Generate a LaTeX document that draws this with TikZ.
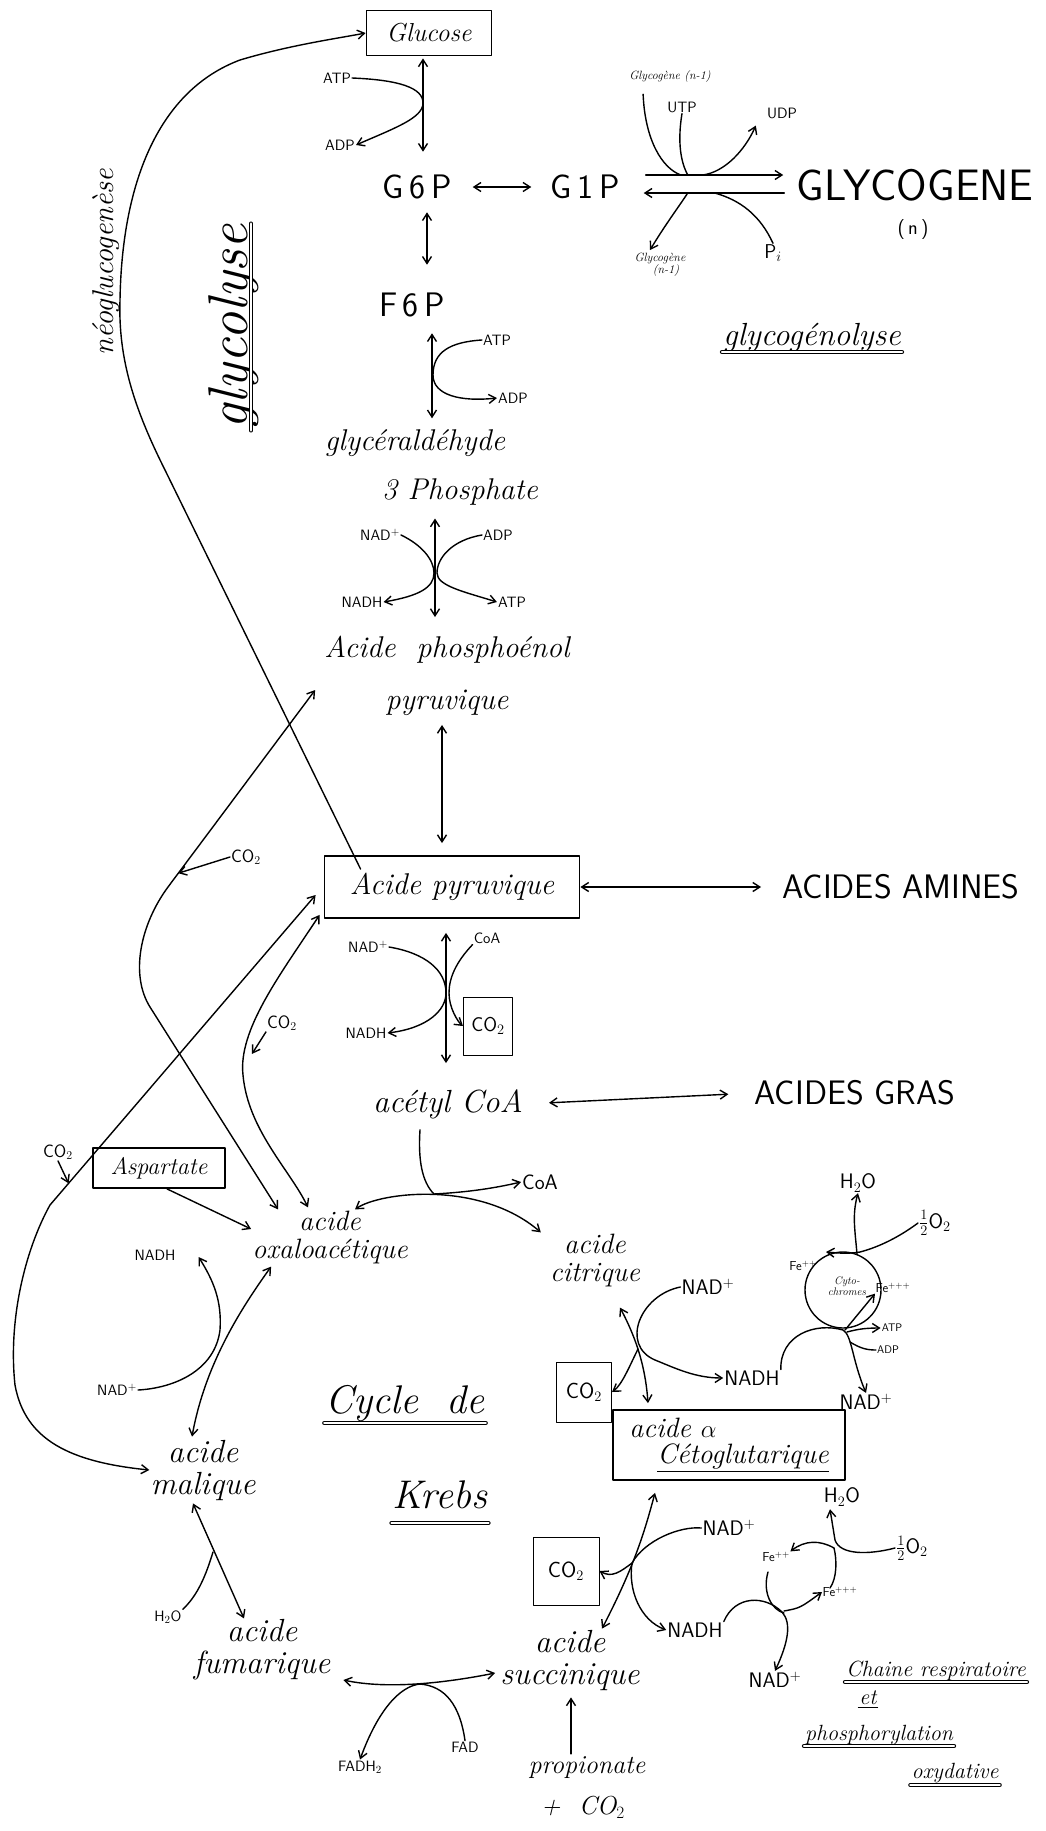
\documentclass[tikz,border=0pt]{standalone}
\usepackage{fontspec}
\usetikzlibrary{arrows.meta,calc}
\tikzset{
  % textes
  mol/.style    = {font=\fontsize{#1}{#1}\selectfont\itshape, align=center, inner sep=1pt},
  titre/.style  = {font=\fontsize{#1}{#1}\selectfont\itshape, inner sep=1pt},
  capit/.style  = {font=\fontsize{#1}{#1}\selectfont\sffamily, inner sep=1pt},
  cof/.style    = {font=\fontsize{15}{15}\selectfont\sffamily, inner sep=1pt},
  cofg/.style   = {font=\fontsize{21}{21}\selectfont\sffamily, inner sep=1pt},
  cofp/.style   = {font=\fontsize{11}{11}\selectfont\sffamily, inner sep=1pt},
  fer/.style    = {font=\fontsize{13}{13}\selectfont\sffamily, inner sep=0.5pt},
  petit/.style  = {font=\fontsize{12}{12}\selectfont\itshape, inner sep=1pt, align=center},
  % cadres
  boite/.style     = {draw, line width=1.8pt},
  boitefine/.style = {draw, line width=1pt},
  % traits
  trait/.style = {line width=1.4pt},
  soul/.style  = {line width=0.9pt, double, double distance=2.5pt},
}

\begin{document}
\begin{tikzpicture}[x=1pt, y=-1pt, >={Straight Barb[length=7pt,width=9pt]}, line cap=round, line join=round]
  \path[use as bounding box, fill=white] (0,0) rectangle (1045,1831);

  % glycolyse
  \node[boite, mol=26, minimum width=125, minimum height=45] (glucose) at (429,33) {Glucose};
  \node[cof] (atpa) at (337,78) {ATP};
  \node[cof] (adpa) at (340,145) {ADP};
  \node[capit=34] (g6p) at (417,187) {G\,6\,P};
  \node[capit=34] (g1p) at (585,187) {G\,1\,P};
  \node[capit=34] (f6p) at (412,305) {F\,6\,P};
  \node[cof] (atpb) at (497,340) {ATP};
  \node[cof] (adpb) at (513,398) {ADP};
  \node[mol=30] (gald) at (415,443) {glycéraldéhyde};
  \node[mol=30] (gald3) at (460,492) {3 Phosphate};
  \node[cof] (nada) at (380,535) {NAD$^+$};
  \node[cof] (adpc) at (498,535) {ADP};
  \node[cof] (nadha) at (362,602) {NADH};
  \node[cof] (atpc) at (512,602) {ATP};
  \node[mol=30] (pep) at (447,676) {Acide\ \ phosphoénol\\[22pt]pyruvique};
  \node[boite, mol=30, minimum width=255, minimum height=62] (pyr) at (452,887) {Acide pyruvique};
  \node[capit=34] (amines) at (901,887) {ACIDES AMINES};
  \node[cof] (nadb) at (368,947) {NAD$^+$};
  \node[cof] (coaa) at (487,938) {CoA};
  \node[cof] (nadhb) at (366,1033) {NADH};
  \node[boitefine, capit=20, minimum width=49, minimum height=58] (co2a) at (488,1026) {CO$_2$};
  \node[mol=32] (acetyl) at (448,1104) {acétyl CoA};
  \node[capit=34] (gras) at (855,1093) {ACIDES GRAS};

  % glycogene
  \node[capit=44] (glycog) at (915,185) {GLYCOGENE};
  \node[capit=20] (nglyc) at (913,230) {(\,n\,)};
  \node[petit] (gna) at (670,77) {Glycogène (n-1)};
  \node[cof] (utp) at (682,107) {UTP};
  \node[cof] (udp) at (782,113) {UDP};
  \node[petit] (gnb) at (660,265) {Glycogène\\ \quad(n-1)};
  \node[capit=20] (pi) at (773,253) {P$_i$};

  % cycle de Krebs
  \node[boite, mol=24, minimum width=132, minimum height=40] (asp) at (159,1168) {Aspartate};
  \node[mol=28] (oxalo) at (330,1237) {acide\\oxaloacétique};
  \node[cofg] (coab) at (540,1182) {CoA};
  \node[mol=28] (citr) at (595,1260) {acide\\citrique};
  \node[cofg] (nadc) at (708,1287) {NAD$^+$};
  \node[cofg] (nadhc) at (752,1378) {NADH};
  \node[boitefine, capit=22, minimum width=55, minimum height=60] (co2b) at (584,1392) {CO$_2$};
  \node[boite, mol=28, minimum width=232, minimum height=70, align=left] (ceto) at (729,1445) {acide $\alpha$\\[-2pt]\quad\underline{Cétoglutarique}};
  \node[boitefine, capit=22, minimum width=66, minimum height=68] (co2c) at (566,1571) {CO$_2$};
  \node[cofg] (nade) at (729,1528) {NAD$^+$};
  \node[cofg] (nadhd) at (695,1630) {NADH};
  \node[mol=32] (succ) at (570,1660) {acide\\succinique};
  \node[mol=26] (prop) at (587,1768) {propionate};
  \node[mol=26] (plusco2) at (583,1807) {+\ \ CO$_2$};
  \node[mol=32] (mal) at (203,1470) {acide\\malique};
  \node[cof] (nadg) at (117,1390) {NAD$^+$};
  \node[cof] (nadhg) at (155,1255) {NADH};
  \node[mol=32] (fum) at (262,1650) {acide\\fumarique};
  \node[cof] (h2oc) at (168,1617) {H$_2$O};
  \node[cof] (fad) at (465,1747) {FAD};
  \node[cof] (fadh) at (360,1767) {FADH$_2$};
  \node[capit=18] (co2d) at (58,1152) {CO$_2$};
  \node[capit=18] (co2e) at (246,857) {CO$_2$};
  \node[capit=18] (co2f) at (282,1023) {CO$_2$};

  % chaine respiratoire
  \coordinate (cyto) at (843,1290);
  \coordinate (cytob) at (800,1578);
  \node[fer] (fea) at (803,1266) {Fe$^{++}$};
  \node[petit, font=\fontsize{11}{11}\selectfont\itshape] (cytot) at (847,1286) {Cyto-\\chromes};
  \node[fer] (feb) at (893,1288) {Fe$^{+++}$};
  \node[cofg] (h2oa) at (858,1183) {H$_2$O};
  \node[cofg] (o2a) at (935,1223) {$\frac12$O$_2$};
  \node[cofp] (atpd) at (892,1328) {ATP};
  \node[cofp] (adpd) at (888,1350) {ADP};
  \node[cofg] (nadd) at (866,1402) {NAD$^+$};
  \node[cofg] (h2ob) at (842,1497) {H$_2$O};
  \node[cofg] (o2b) at (912,1548) {$\frac12$O$_2$};
  \node[fer] (fec) at (776,1557) {Fe$^{++}$};
  \node[fer] (fed) at (840,1592) {Fe$^{+++}$};
  \node[cofg] (nadf) at (775,1680) {NAD$^+$};

  % titres
  \node[titre=56, rotate=90, anchor=base] (glycolyse) at (247,327) {glycolyse};
  \node[titre=30, rotate=90, anchor=base] (neo) at (113,262) {néoglucogenèse};
  \node[titre=32, anchor=base] (glycogeno) at (812,345) {glycogénolyse};
  \node[titre=40, anchor=base] (cycle) at (405,1413) {Cycle\ \ de};
  \node[titre=40, anchor=base] (krebs) at (440,1508) {Krebs};
  \node[titre=22, anchor=base] (chaine) at (936,1676) {Chaine respiratoire};
  \node[titre=22, anchor=base] (et) at (868,1704) {et};
  \node[titre=22, anchor=base] (phospho) at (879,1740) {phosphorylation};
  \node[titre=22, anchor=base] (oxyd) at (955,1778) {oxydative};
  \draw[soul] ([xshift=4pt]glycolyse.base west) -- ([xshift=4pt]glycolyse.base east);
  \draw[soul] ([yshift=-7pt]glycogeno.base west) -- ([yshift=-7pt]glycogeno.base east);
  \draw[soul] ([yshift=-10pt]cycle.base west) -- ([yshift=-10pt]cycle.base east);
  \draw[soul] ([yshift=-15pt]krebs.base west) -- ([yshift=-15pt]krebs.base east);
  \draw[soul] ([yshift=-6pt]chaine.base west) -- ([yshift=-6pt]chaine.base east);
  \draw[line width=1pt] ([yshift=-3pt]et.base west) -- ([yshift=-3pt]et.base east);
  \draw[soul] ([yshift=-6pt]phospho.base west) -- ([yshift=-6pt]phospho.base east);
  \draw[soul] ([yshift=-7pt]oxyd.base west) -- ([yshift=-7pt]oxyd.base east);

  % fleches de la glycolyse
  \draw[<->, trait] ($(glucose.south)+(-6,2)$) -- ($(g6p.north)+(6,-22)$);
  \draw[->, trait] (atpa.east) .. controls (400,80) and (423,88) .. (423,103) .. controls (423,118) and (395,128) .. (adpa.east);
  \draw[<->, trait, shorten <=20pt, shorten >=18pt] (g6p.east) -- (g1p.west);
  \draw[<->, trait] ($(g6p.south)+(10,12)$) -- ($(f6p.north)+(15,-27)$);
  \draw[<->, trait] ($(f6p.south)+(20,15)$) -- ($(gald.north)+(17,-10)$);
  \draw[->, trait] (atpb.west) .. controls (450,342) and (433,352) .. (433,375) .. controls (433,395) and (460,402) .. (adpb.west);
  \draw[<->, trait] ($(gald3.south)+(-25,12)$) -- ($(pep.north)+(-12,-18)$);
  \draw[->, trait] (nada.east) .. controls (422,545) and (434,560) .. (434,573) .. controls (434,588) and (418,596) .. (nadha.east);
  \draw[->, trait] (adpc.west) .. controls (452,540) and (437,558) .. (437,573) .. controls (437,586) and (465,592) .. (atpc.west);
  \draw[<->, trait] ($(pep.south)+(-5,8)$) -- ($(pyr.north)+(-10,-12)$);
  \draw[<->, trait, shorten >=20pt] (pyr.east) -- (amines.west);
  \draw[<->, trait] ($(pyr.south)+(-6,14)$) -- ($(acetyl.north)+(-2,-25)$);
  \draw[->, trait] (nadb.east) .. controls (425,953) and (446,970) .. (446,993) .. controls (446,1010) and (428,1028) .. (nadhb.east);
  \draw[->, trait] (coaa.south west) .. controls (456,962) and (449,978) .. (449,993) .. controls (449,1008) and (458,1022) .. (co2a.west);
  \draw[<->, trait, shorten <=25pt, shorten >=25pt] (acetyl.east) -- (gras.west);

  % neoglucogenese
  \draw[->, trait] ($(pyr.north west)+(37,14)$) -- (165,470) .. controls (135,410) and (118,360) .. (120,300)
    .. controls (122,180) and (160,90) .. (240,60) .. controls (290,45) and (340,38) .. (glucose.west);

  % glycogene
  \coordinate (ga) at ($(g1p.east)+(60,-12)$);
  \coordinate (gb) at ($(g1p.east)+(67,-12)$);
  \coordinate (gc) at ($(g1p.east)+(82,-12)$);
  \coordinate (gd) at ($(g1p.east)+(67,6)$);
  \coordinate (ge) at ($(g1p.east)+(94,6)$);
  \draw[->, trait] ($(g1p.east)+(25,-12)$) -- ($(glycog.west)+(-12,-10)$);
  \draw[->, trait] ($(glycog.west)+(-11,8)$) -- ($(g1p.east)+(23,6)$);
  \draw[trait] ($(gna.south west)+(15,10)$) .. controls (645,140) and (662,168) .. (ga);
  \draw[trait] (utp.south) .. controls (676,150) and (684,168) .. (gb);
  \draw[->, trait] (gc) .. controls (725,172) and (745,150) .. ($(udp.south west)+(-10,6)$);
  \draw[->, trait] (gd) .. controls (680,205) and (665,225) .. ($(gnb.north)+(-10,-2)$);
  \draw[trait] (ge) .. controls (740,200) and (760,215) .. (pi.north);

  % voies vers le cycle
  \coordinate (kp) at ($(pyr.west)+(-8,8)$);
  \coordinate (kb) at (50,1205);
  \draw[<->, trait] (kp) -- (kb) .. controls (25,1250) and (8,1320) .. (15,1385) .. controls (25,1440) and (70,1462) .. (mal.west);
  \draw[->, trait] (co2d.south) -- ($(kp)!0.93!(kb)$);
  \coordinate (ka) at ($(pep.west)+(-8,14)$);
  \coordinate (kh) at (168,887);
  \coordinate (ki) at (150,1007);
  \draw[<->, trait] (ka) -- (kh) .. controls (140,925) and (130,975) .. (ki) -- ($(oxalo.north)+(-52,0)$);
  \draw[->, trait] (co2e.west) -- ($(ka)!0.93!(kh)$);
  \draw[<->, trait] ($(pyr.south west)+(-4,-4)$) .. controls (280,975) and (238,1030) .. (243,1075) .. controls (248,1130) and (290,1170) .. ($(oxalo.north)+(-22,-2)$);
  \draw[->, trait] (co2f.south west) -- ++(-14,22);
  \draw[->, trait] ($(asp.south)+(8,0)$) -- ($(oxalo.west)+(0,-8)$);

  % cycle de Krebs
  \coordinate (kc) at (434,1194);
  \draw[trait] ($(acetyl.south)+(-28,10)$) .. controls (418,1160) and (422,1182) .. (kc);
  \draw[<->, trait] ($(oxalo.north)+(25,0)$) .. controls (380,1192) and (480,1180) .. ($(citr.north west)+(-8,0)$);
  \draw[->, trait] (kc) .. controls (470,1192) and (495,1188) .. (coab.west);
  \coordinate (kd) at (638,1349);
  \draw[<->, trait] ($(citr.south)+(25,20)$) .. controls (640,1345) and (646,1375) .. ($(ceto.north)+(-81,-6)$);
  \draw[->, trait] (kd) .. controls (630,1365) and (622,1385) .. (co2b.east);
  \draw[->, trait] (nadc.west) .. controls (640,1295) and (620,1345) .. (655,1360) .. controls (675,1368) and (695,1378) .. (nadhc.west);
  \coordinate (kf) at (632,1563);
  \draw[<->, trait] ($(ceto.south)+(-74,12)$) .. controls (645,1530) and (635,1565) .. ($(succ.north)+(32,0)$);
  \draw[->, trait] (kf) .. controls (620,1572) and (612,1578) .. (co2c.east);
  \draw[->, trait] (nade.west) .. controls (680,1526) and (645,1540) .. (kf) .. controls (628,1590) and (640,1620) .. (nadhd.west);
  \draw[->, trait] ($(prop.north)+(-16,-2)$) -- ($(succ.south)+(1,6)$);
  \coordinate (kg) at (420,1684);
  \draw[<->, trait] ($(fum.east)+(12,30)$) .. controls (390,1690) and (450,1682) .. ($(succ.west)+(-4,13)$);
  \draw[->, trait] (fad.north) .. controls (460,1705) and (445,1686) .. (kg) .. controls (400,1686) and (378,1710) .. (fadh.north);
  \draw[<->, trait] ($(mal.south)+(-10,2)$) -- ($(fum.north)+(-18,0)$);
  \draw[trait] (h2oc.north east) .. controls (198,1595) and (206,1575) .. (213,1552);
  \draw[<->, trait] ($(oxalo.south west)+(20,2)$) .. controls (240,1310) and (205,1365) .. ($(mal.north)+(-11,-2)$);
  \draw[->, trait] (nadg.east) .. controls (175,1388) and (215,1370) .. (220,1330) .. controls (222,1300) and (213,1280) .. ($(nadhg.east)+(22,2)$);

  % chaine respiratoire
  \draw[trait] (cyto) circle[radius=38];
  \draw[->, trait] (o2a.west) .. controls (895,1240) and (875,1248) .. (860,1252) .. controls (848,1254) and (838,1253) .. (826,1252);
  \draw[->, trait] ($(cyto)+(14,-36)$) .. controls (855,1230) and (852,1215) .. (h2oa.south);
  \draw[->, trait] (nadhc.north east) .. controls (780,1335) and (815,1322) .. ($(cyto)+(0,40)$) .. controls (852,1335) and (852,1360) .. (nadd.north);
  \draw[->, trait] ($(cyto)+(2,40)$) -- (feb.south west);
  \draw[->, trait] ($(cyto)+(4,42)$) .. controls (855,1330) and (862,1328) .. (atpd.west);
  \draw[trait] ($(cyto)+(7,52)$) .. controls (860,1348) and (866,1350) .. (adpd.west);
  \draw[trait] ($(cytob)+(-32,-6)$) .. controls ($(cytob)+(-38,15)$) and ($(cytob)+(-28,32)$) .. ($(cytob)+(-16,35)$);
  \draw[trait] ($(cytob)+(30,10)$) .. controls ($(cytob)+(37,0)$) and ($(cytob)+(37,-18)$) .. ($(cytob)+(34,-30)$);
  \coordinate (ke) at (834,1548);
  \draw[->, trait] (o2b.west) .. controls (868,1555) and (840,1555) .. (835,1540) -- ($(h2ob.south)+(-12,2)$);
  \draw[->, trait] (ke) .. controls (820,1540) and (805,1540) .. (fec.north east);
  \draw[->, trait] (nadhd.north east) .. controls (735,1595) and (765,1595) .. ($(cytob)+(-18,34)$) .. controls ($(cytob)+(-8,45)$) and ($(cytob)+(-12,65)$) .. (nadf.north);
  \draw[->, trait] ($(cytob)+(-16,33)$) .. controls ($(cytob)+(0,30)$) .. (fed.west);
\end{tikzpicture}
\end{document}
